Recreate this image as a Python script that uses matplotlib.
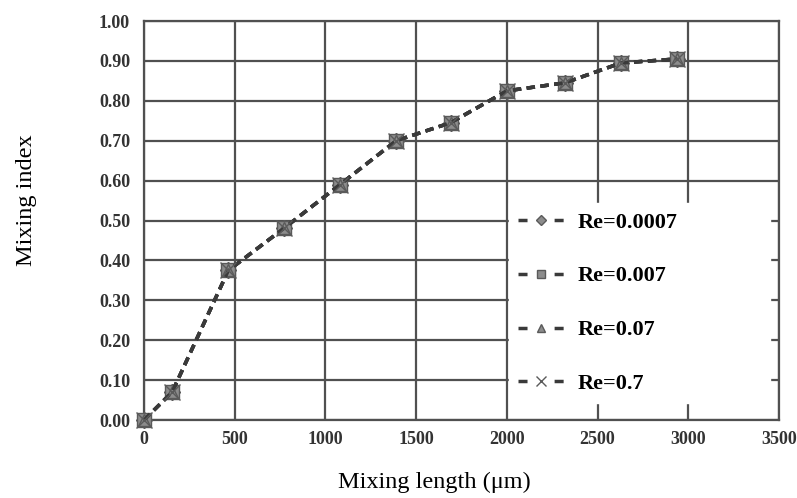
import matplotlib
matplotlib.use("Agg")
import matplotlib.pyplot as plt
from matplotlib.ticker import FixedLocator
from matplotlib.lines import Line2D

# Data
mixing_length = [0, 155, 465, 770, 1080, 1390, 1690, 2000, 2320, 2630, 2940]
mix_re_0007 = [0.0, 0.07, 0.375, 0.48, 0.59, 0.70, 0.745, 0.825, 0.845, 0.895, 0.905]
mix_re_007 = [0.0, 0.07, 0.375, 0.48, 0.59, 0.70, 0.745, 0.825, 0.845, 0.895, 0.905]
mix_re_07 = [0.0, 0.07, 0.375, 0.48, 0.59, 0.70, 0.745, 0.825, 0.845, 0.895, 0.905]
mix_re_7 = [0.0, 0.07, 0.375, 0.48, 0.59, 0.70, 0.745, 0.825, 0.845, 0.895, 0.905]
series_labels = ["Re=0.0007", "Re=0.007", "Re=0.07", "Re=0.7"]
x_ticks = [0, 500, 1000, 1500, 2000, 2500, 3000, 3500]
y_ticks = [0.0, 0.1, 0.2, 0.3, 0.4, 0.5, 0.6, 0.7, 0.8, 0.9, 1.0]

plt.rcParams['font.family'] = ['Liberation Serif', 'DejaVu Serif']

fig = plt.figure(figsize=(7.97, 4.98), dpi=100)
ax = fig.add_axes([0.1807, 0.1566, 0.7967, 0.8012])

grid_c = '#505050'
markers = ['D', 's', '^', 'x']
msizes = [8, 10.5, 9, 11]
series = [mix_re_0007, mix_re_007, mix_re_07, mix_re_7]
handles = []
for ys, lab, mk, ms in zip(series, series_labels, markers, msizes):
    ax.plot(mixing_length, ys, linestyle=(0, (2.4, 1.6)), lw=2.5, color='#3a3a3a',
            marker=mk, markersize=ms, markerfacecolor='#8c8c8c',
            markeredgecolor='#5a5a5a', markeredgewidth=1.0, zorder=3,
            clip_on=False)
    handles.append(Line2D([], [], linestyle=(0, (2.6, 7.8)), lw=2.5, color='#3a3a3a',
                          marker=mk, markersize=ms * 0.6, markerfacecolor='#8c8c8c',
                          markeredgecolor='#5a5a5a', markeredgewidth=1.0, label=lab))

ax.set_xlim(0, 3500)
ax.set_ylim(0, 1.0)
ax.xaxis.set_major_locator(FixedLocator(x_ticks))
ax.yaxis.set_major_locator(FixedLocator(y_ticks))
ax.set_xticklabels([str(v) for v in x_ticks])
ax.set_yticklabels([f"{v:.2f}" for v in y_ticks])
ax.grid(True, color=grid_c, lw=1.6, zorder=1)
ax.set_axisbelow(True)
for s in ax.spines.values():
    s.set_color(grid_c)
    s.set_linewidth(1.6)
ax.tick_params(length=0, labelsize=13, labelcolor='#333333')
ax.tick_params(axis='y', pad=10)
ax.tick_params(axis='x', pad=8)
for t in ax.get_xticklabels() + ax.get_yticklabels():
    t.set_fontweight('bold')

fig.text(0.033, 0.598, 'Mixing index', rotation=90, ha='center', va='center', fontsize=17.5)
fig.text(0.545, 0.032, 'Mixing length (\u03bcm)', ha='center', va='center', fontsize=17.5)

leg = ax.legend(handles=handles, loc='center left', bbox_to_anchor=(0.575, 0.043, 0.411, 0.5),
                mode='expand', frameon=True, fancybox=False, edgecolor='white',
                facecolor='white', framealpha=1.0, fontsize=16, labelspacing=1.5,
                handlelength=2.1, handletextpad=0.6, numpoints=1,
                borderpad=0.4, borderaxespad=0)
for t in leg.get_texts():
    t.set_fontweight('bold')
leg.set_zorder(2)

fig.savefig('out.png', dpi=100)
